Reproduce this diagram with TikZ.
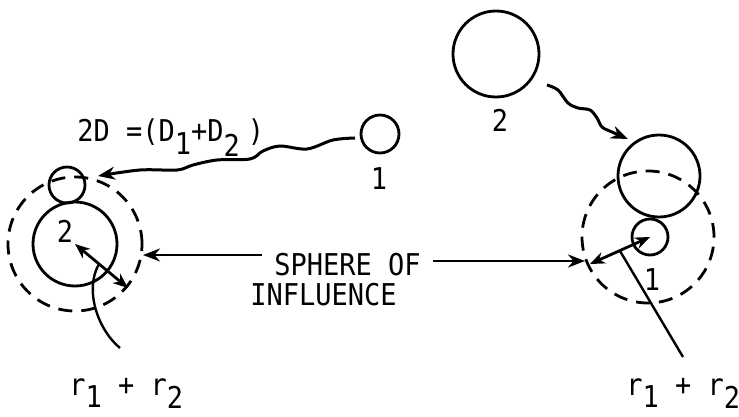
\documentclass[tikz,border=0pt]{standalone}
\usepackage{fontspec}
\setmainfont{DejaVu Sans Mono}[FakeStretch=0.9]
\usetikzlibrary{arrows.meta,calc}
\newcommand\subdn[2]{\raisebox{-#1pt}{#2}}
\begin{document}
\begin{tikzpicture}[x=1pt,y=-1pt,line width=2.8pt,
  ball/.style={circle,draw,inner sep=0pt,minimum size=#1},
  sphere/.style={circle,draw,dash pattern=on 14pt off 9pt,inner sep=0pt,minimum size=#1},
  lbl/.style={font=\fontsize{30}{31}\selectfont,inner sep=0pt},
  tip/.style={-{Stealth[length=17pt,width=13pt]}},
  dtip/.style={{Stealth[length=15pt,width=12pt]}-{Stealth[length=15pt,width=12pt]}},
  lead/.style={line width=2.4pt}]
\useasboundingbox (0,0) rectangle (739,417);
\fill[white] (0,0) rectangle (739,417);

% ---------- left group ----------
\node[ball=38pt] (L1) at (380,134) {};
\node[lbl] (L1lbl) at (379,179) {1};
\node[ball=36pt] (La) at (67,185) {};
\node[ball=84pt] (L2) at (75,244) {};
\node[lbl] (L2lbl) at (65,231) {2};
\node[sphere=134pt] (Ls) at (75,244) {};

\node[lbl,anchor=base west] (eq) at (76,142) {2D =(D\subdn{13}{1}+D\subdn{15}{2}\hspace{8pt})};

\coordinate (lw0) at (355,138);
\coordinate (lw1) at (98,176);
\draw[tip,line width=3pt] plot[smooth,tension=0.55] coordinates
  {(lw0) (333,140) (307,149) (280,146) (263,151) (250,159) (217,160) (193,165) (177,170) (140,170) (lw1)};

\coordinate (la) at (128,288);
\draw[dtip] (L2.center) -- (la);
\coordinate (ll0) at (120,348);
\coordinate (ll1) at (99,264);
\draw[lead] (ll0) .. controls (98,330) and (84,290) .. (ll1);
\node[lbl,anchor=base west] (Lr) at (68,395) {r\subdn{12}{1} + r\subdn{13}{2}};

% ---------- middle text ----------
\node[lbl,anchor=base west] (sph) at (273,275) {SPHERE OF};
\node[lbl,anchor=base west] (inf) at (249,305) {INFLUENCE};
\coordinate (sl0) at (262,255);
\coordinate (sl1) at (143,255);
\coordinate (sr0) at (433,261);
\coordinate (sr1) at (585,261);
\draw[tip] (sl0) -- (sl1);
\draw[tip] (sr0) -- (sr1);

% ---------- right group ----------
\node[ball=86pt] (R2) at (496,54) {};
\node[lbl] (R2lbl) at (500,120) {2};
\node[ball=82pt] (Rb) at (659,176) {};
\node[ball=36pt] (R1) at (650,237) {};
\node[lbl] (R1lbl) at (652,280) {1};
\node[sphere=132pt] (Rs) at (648,237) {};

\coordinate (rw0) at (547,85);
\coordinate (rw1) at (628,139);
\draw[tip,line width=3pt] plot[smooth,tension=0.55] coordinates
  {(rw0) (558,90) (568,103) (578,108) (590,110) (597,118) (602,127) (612,132) (rw1)};

\coordinate (ra) at (590,264);
\draw[dtip] (R1.center) -- (ra);
\coordinate (rl0) at (620,251);
\coordinate (rl1) at (683,357);
\draw[lead] (rl0) -- (rl1);
\node[lbl,anchor=base west] (Rr) at (625,395) {r\subdn{12}{1} + r\subdn{13}{2}};
\end{tikzpicture}
\end{document}
